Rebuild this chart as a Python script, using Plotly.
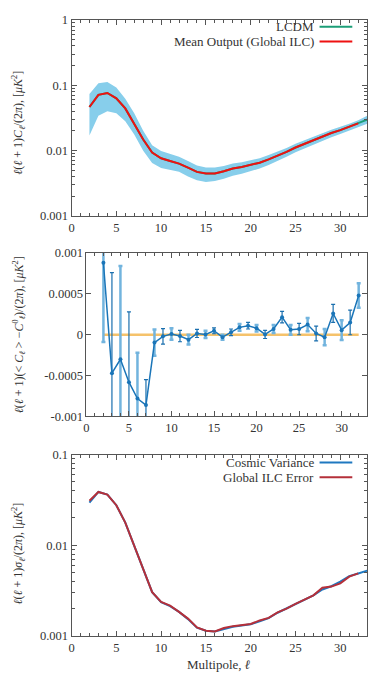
import plotly.graph_objects as go

# multipoles
ell = list(range(2, 34))
ell_mid = list(range(2, 33))

# top panel: mean output / LCDM and band
lcdm = [0.0463, 0.071, 0.076, 0.063, 0.044, 0.026, 0.0147, 0.0093, 0.0076, 0.0069,
        0.0063, 0.00545, 0.0047, 0.00443, 0.00443, 0.0048, 0.0053, 0.0056, 0.0060, 0.0065,
        0.0073, 0.0083, 0.0095, 0.0111, 0.0127, 0.0144, 0.0163, 0.0185, 0.0205, 0.023,
        0.026, 0.0297]
mean_out = [0.0463, 0.071, 0.076, 0.063, 0.044, 0.026, 0.0147, 0.0093, 0.0076, 0.0069,
            0.0063, 0.00545, 0.0047, 0.00443, 0.00443, 0.0048, 0.0053, 0.0056, 0.0060, 0.0065,
            0.0073, 0.0083, 0.0095, 0.0111, 0.0127, 0.0144, 0.0163, 0.0185, 0.0205, 0.023,
            0.026]
band_hi = [0.073, 0.107, 0.112, 0.092, 0.062, 0.037, 0.020, 0.0120, 0.0098, 0.0088,
           0.0080, 0.0069, 0.0059, 0.0055, 0.0055, 0.0058, 0.0063, 0.0066, 0.0070, 0.0076,
           0.0085, 0.0096, 0.0109, 0.0127, 0.0145, 0.0163, 0.0184, 0.0208, 0.0230, 0.0257,
           0.0290, 0.0340]
band_lo = [0.017, 0.034, 0.040, 0.037, 0.028, 0.0175, 0.0099, 0.0064, 0.0054, 0.0051,
           0.0047, 0.0040, 0.0035, 0.0033, 0.0034, 0.0037, 0.0041, 0.0044, 0.0048, 0.0053,
           0.0060, 0.0069, 0.0080, 0.0094, 0.0108, 0.0124, 0.0141, 0.0160, 0.0179, 0.0202,
           0.0228, 0.0256]

# middle panel: residuals and errors
resid = [0.00088, -0.00047, -0.0003, -0.00058, -0.00078, -0.00086, -0.000096, -0.00002,
         0.00001, -0.000016, -0.00006, 0.000016, 0.000004, 0.000048, -0.00003, 0.00003,
         0.00009, 0.00011, 0.00008, 0.000004, 0.00007, 0.000215, 0.00006, 0.00007,
         0.000124, 0.000016, -0.00003, 0.00026, 0.000056, 0.00015, 0.00048]
resid_err = [0.00097, 0.00123, 0.00114, 0.00086, 0.00056, 0.00031, 0.00016, 0.000095,
             0.00007, 0.00007, 0.00006, 0.00005, 0.000045, 0.000036, 0.00003, 0.00004,
             0.00004, 0.00004, 0.00004, 0.00005, 0.00005, 0.00007, 0.00006, 0.00007,
             0.00008, 0.00009, 0.0001, 0.00011, 0.00012, 0.00015, 0.00015]

# bottom panel: errors
cosmic_var = [0.0295, 0.0388, 0.0363, 0.0277, 0.0178, 0.0098, 0.0053, 0.00304, 0.00235, 0.00213,
              0.00184, 0.00153, 0.00123, 0.00114, 0.00112, 0.00119, 0.00126, 0.0013, 0.00134, 0.00145,
              0.00157, 0.0018, 0.0020, 0.00226, 0.00252, 0.0028, 0.00325, 0.00353, 0.00396, 0.00456,
              0.00488, 0.00525]
ilc_err = [0.031, 0.0388, 0.0363, 0.0277, 0.0178, 0.0098, 0.0053, 0.00304, 0.00237, 0.00216,
           0.00184, 0.00155, 0.00124, 0.00114, 0.00112, 0.00122, 0.00128, 0.00131, 0.00135, 0.00148,
           0.00158, 0.00182, 0.0020, 0.00226, 0.00252, 0.0028, 0.0034, 0.0035, 0.0038, 0.0045,
           0.0049]

FONT = "'Liberation Serif', 'DejaVu Serif', serif"
TXT = "#333333"
AX = "#555555"
OFF = 8  # page body margin
W, H = 390 - OFF, 683 - OFF

fig = go.Figure()

# --- top panel
fig.add_trace(go.Scatter(x=ell, y=band_lo, mode="lines", line=dict(width=0),
                         showlegend=False, xaxis="x", yaxis="y"))
fig.add_trace(go.Scatter(x=ell, y=band_hi, mode="lines", line=dict(width=0),
                         fill="tonexty", fillcolor="#87ceeb", showlegend=False,
                         xaxis="x", yaxis="y"))
fig.add_trace(go.Scatter(x=ell, y=lcdm, mode="lines", line=dict(color="#1b9e77", width=2),
                         name="LCDM", showlegend=False, xaxis="x", yaxis="y"))
fig.add_trace(go.Scatter(x=ell_mid, y=mean_out, mode="lines", line=dict(color="#ee1111", width=2),
                         name="Mean Output (Global ILC)", showlegend=False, xaxis="x", yaxis="y"))

# --- middle panel
fig.add_trace(go.Scatter(x=ell_mid, y=[0] * len(ell_mid), mode="lines",
                         line=dict(color="#f5c26b", width=2.5), showlegend=False,
                         xaxis="x2", yaxis="y2"))
ev = [i for i, l in enumerate(ell_mid) if l % 2 == 0]
od = [i for i, l in enumerate(ell_mid) if l % 2 == 1]
fig.add_trace(go.Scatter(x=[ell_mid[i] for i in ev], y=[resid[i] for i in ev], mode="markers",
                         marker=dict(size=1, color="rgba(0,0,0,0)"),
                         error_y=dict(type="data", array=[resid_err[i] for i in ev],
                                      color="#72b4de", thickness=2.5, width=2),
                         showlegend=False, xaxis="x2", yaxis="y2"))
fig.add_trace(go.Scatter(x=[ell_mid[i] for i in od], y=[resid[i] for i in od], mode="markers",
                         marker=dict(size=1, color="rgba(0,0,0,0)"),
                         error_y=dict(type="data", array=[resid_err[i] for i in od],
                                      color="#1a6fae", thickness=1.2, width=2),
                         showlegend=False, xaxis="x2", yaxis="y2"))
fig.add_trace(go.Scatter(x=ell_mid, y=resid, mode="lines+markers",
                         line=dict(color="#1a75b8", width=1.5),
                         marker=dict(size=4, color="#1a75b8"),
                         showlegend=False, xaxis="x2", yaxis="y2"))

# --- bottom panel
fig.add_trace(go.Scatter(x=ell, y=cosmic_var, mode="lines", line=dict(color="#1f78c0", width=2),
                         name="Cosmic Variance", showlegend=False, xaxis="x3", yaxis="y3"))
fig.add_trace(go.Scatter(x=ell_mid, y=ilc_err, mode="lines", line=dict(color="#b5303a", width=2),
                         name="Global ILC Error", showlegend=False, xaxis="x3", yaxis="y3"))


# reference pixel -> paper coords (figure sits OFF px inside the page)
def px_x(v):
    return (v - OFF) / W


def px_y(v):
    return 1 - (v - OFF) / H


tickfont = dict(family=FONT, size=12.5, color=TXT)
common_x = dict(range=[0, 33], tickvals=[0, 5, 10, 15, 20, 25, 30], ticks="inside", ticklen=5,
                tickcolor=AX, showline=True, linecolor=AX, linewidth=1, mirror="ticks",
                showgrid=False, zeroline=False, tickfont=tickfont,
                minor=dict(ticks="inside", dtick=1, ticklen=3, tickcolor=AX, showgrid=False))
log_y = dict(type="log", ticks="inside", ticklen=5, tickcolor=AX, showline=True, linecolor=AX,
             linewidth=1, mirror="ticks", showgrid=False, zeroline=False, tickfont=tickfont,
             minor=dict(ticks="inside", dtick="D1", ticklen=3, tickcolor=AX, showgrid=False))

fig.update_layout(
    width=W, height=H,
    margin=dict(l=0, r=0, t=0, b=0),
    paper_bgcolor="white", plot_bgcolor="white",
    font=dict(family=FONT, color=TXT),
    xaxis=dict(common_x, domain=[px_x(69), px_x(367)], anchor="y"),
    yaxis=dict(log_y, domain=[px_y(213), px_y(13)], anchor="x", range=[-3, 0],
               tickvals=[0.001, 0.01, 0.1, 1], ticktext=["0.001", "0.01", "0.1", "1"]),
    xaxis2=dict(common_x, domain=[px_x(84), px_x(367)], anchor="y2"),
    yaxis2=dict(domain=[px_y(418), px_y(251)], anchor="x2", range=[-0.001, 0.001],
                tickvals=[-0.001, -0.0005, 0, 0.0005, 0.001],
                ticktext=["-0.001", "-0.0005", "0", "0.0005", "0.001"],
                ticks="inside", ticklen=5, tickcolor=AX, showline=True, linecolor=AX,
                linewidth=1, mirror="ticks", showgrid=False, zeroline=False, tickfont=tickfont),
    xaxis3=dict(common_x, domain=[px_x(69), px_x(367)], anchor="y3"),
    yaxis3=dict(log_y, domain=[px_y(642), px_y(457)], anchor="x3", range=[-3, -1],
                tickvals=[0.001, 0.01, 0.1], ticktext=["0.001", "0.01", "0.1"]),
)

title_font = dict(family=FONT, size=12, color=TXT)
ann = [
    dict(x=px_x(16), y=px_y(118),
         text="<i>ℓ</i>(<i>ℓ</i> + 1)<i>C<sub>ℓ</sub></i>/(2<i>π</i>), [<i>μK</i><sup>2</sup>]"),
    dict(x=px_x(16), y=px_y(334),
         text="<i>ℓ</i>(<i>ℓ</i> + 1)(&lt; <i>C<sub>ℓ</sub></i> &gt; −<i>C</i><sup>0</sup><sub><i>ℓ</i></sub>)/(2<i>π</i>), [<i>μK</i><sup>2</sup>]"),
    dict(x=px_x(16), y=px_y(558),
         text="<i>ℓ</i>(<i>ℓ</i> + 1)<i>σ<sub>ℓ</sub></i>/(2<i>π</i>), [<i>μK</i><sup>2</sup>]"),
]
for a in ann:
    fig.add_annotation(xref="paper", yref="paper", textangle=-90, showarrow=False,
                       xanchor="center", yanchor="middle", borderpad=0, font=title_font, **a)

fig.add_annotation(xref="paper", yref="paper", x=px_x(218), y=px_y(671), text="Multipole, <i>ℓ</i>",
                   showarrow=False, xanchor="center", yanchor="middle",
                   font=dict(family=FONT, size=13, color=TXT))

# legends (text right, sample line on the right)
legends = [
    ("LCDM", "#1b9e77", 20),
    ("Mean Output (Global ILC)", "#ee1111", 35),
    ("Cosmic Variance", "#1f78c0", 465),
    ("Global ILC Error", "#b5303a", 480),
]
for label, col, yy in legends:
    fig.add_annotation(xref="paper", yref="paper", x=px_x(313), y=px_y(yy), text=label,
                       showarrow=False, xanchor="right", yanchor="middle", borderpad=0,
                       borderwidth=0, font=dict(family=FONT, size=13, color=TXT))
    fig.add_shape(type="line", xref="paper", yref="paper", x0=px_x(319), x1=px_x(352),
                  y0=px_y(yy), y1=px_y(yy), line=dict(color=col, width=2))

fig.write_html("out.html")
